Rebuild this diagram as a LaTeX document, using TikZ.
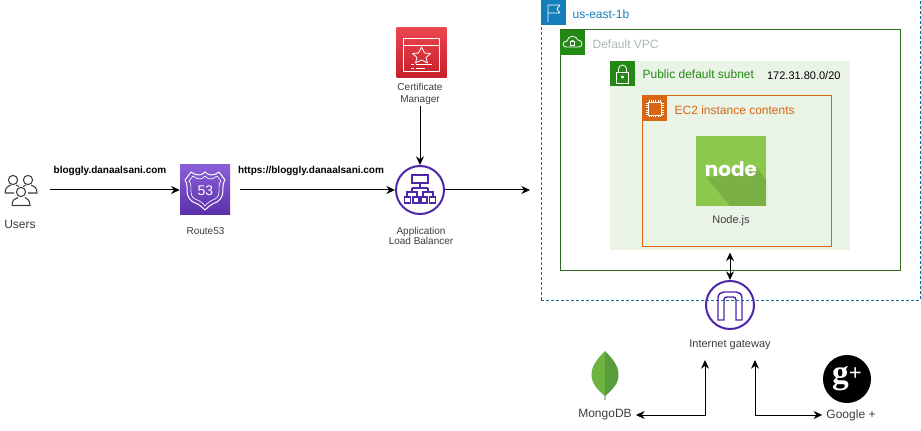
\documentclass[tikz,border=0pt]{standalone}
\usepackage{fontspec}
\setmainfont{Liberation Sans}
\newfontfamily\logofont{Poppins}
\newfontfamily\gplusfont{Liberation Serif}
\usepackage{xcolor}
\usetikzlibrary{arrows.meta, calc, positioning}

\definecolor{labelgray}{HTML}{3C3C3C}
\definecolor{vpcgray}{HTML}{AAB7B8}
\definecolor{zoneblue}{HTML}{147EBA}
\definecolor{awsgreen}{HTML}{248814}
\definecolor{vpcline}{HTML}{2E6B1F}
\definecolor{subnetfill}{HTML}{E9F3E6}
\definecolor{awsorange}{HTML}{D86613}
\definecolor{awspurple}{HTML}{4D27AA}
\definecolor{nodegreen}{HTML}{8CC84B}
\definecolor{nodeshade}{HTML}{7AB044}
\definecolor{routetop}{HTML}{8A5FD8}
\definecolor{routebottom}{HTML}{5A30A8}
\definecolor{certtop}{HTML}{EA4650}
\definecolor{certbottom}{HTML}{C81E2A}
\definecolor{leafleft}{HTML}{6CB43F}
\definecolor{leafright}{HTML}{599C3C}

\tikzset{
    flow/.style={->, line width=0.75pt},
    flowboth/.style={<->, line width=0.75pt},
    tag/.style={font=\fontsize{#1}{#1*1.2}\selectfont, text=labelgray, align=center, inner sep=1pt},
    boldtag/.style={font=\fontsize{7.5pt}{9pt}\selectfont\bfseries, text=black, inner sep=1pt},
    badge/.style={fill=#1, minimum size=18.75pt, inner sep=0pt},
    plainicon/.style={draw=none, inner sep=0pt, minimum size=37.5pt},
    roundicon/.style={circle, draw=awspurple, line width=1.5pt, inner sep=0pt, minimum size=36pt},
    glyph/.style={draw=white, line width=0.6pt, line join=round}
}

\begin{document}
\begin{tikzpicture}[x=0.75pt, y=-0.75pt, >={Stealth[length=6.5pt,width=6pt]}]
    \useasboundingbox (0,0) rectangle (921,431);

    % Nested groups on the right
    \node[draw=zoneblue!85!black, dash pattern=on 2.25pt off 1.5pt, line width=0.75pt, minimum width=284.25pt, minimum height=225pt, inner sep=0pt] (zone) at (730.5,150) {};
    \node[draw=vpcline, line width=0.75pt, minimum width=255pt, minimum height=180pt, inner sep=0pt] (vpc) at (730,150) {};
    \node[fill=subnetfill, minimum width=180pt, minimum height=141.75pt, inner sep=0pt] (subnet) at (730,155.5) {};
    \node[draw=awsorange, line width=0.75pt, minimum width=141.75pt, minimum height=112.5pt, inner sep=0pt] (ec2) at (736.5,171) {};

    % Group badges
    \node[badge=zoneblue] (zonebadge) at (553,12.5) {};
    \node[badge=awsgreen] (vpcbadge) at (572.5,42.5) {};
    \node[badge=awsgreen] (subnetbadge) at (622.5,73.5) {};
    \node[badge=awsorange] (ec2badge) at (654.5,108.5) {};

    % Flag
    \draw[glyph] (548,22) -- (548,5) -- (560,5) -- (557,9) -- (560,13) -- (548,13);
    % Cloud with lock
    \draw[glyph] (566,47) .. controls (562,47) and (562,41) .. (567,41) .. controls (568,35) and (576,35) .. (578,40) .. controls (583,40) and (583,47) .. (579,47) -- cycle;
    \draw[glyph] (570.5,41.5) rectangle (574.5,45);
    \draw[glyph] (571.2,41.5) arc[start angle=180, end angle=360, radius=1.3];
    % Padlock
    \draw[glyph] (616.5,72) rectangle (628.5,83);
    \draw[glyph] (618.5,72) -- (618.5,69) arc[start angle=180, end angle=360, radius=4] -- (626.5,72);
    \draw[glyph] (622.5,77) circle (1.2);
    % Chip
    \draw[glyph] (648,102.5) rectangle (661,115);
    \foreach \i in {0,...,5} {
        \pgfmathsetmacro{\pin}{649+\i*2.2}
        \draw[draw=white, line width=0.4pt] (\pin,100) -- (\pin,102.5) (\pin,115) -- (\pin,117.5);
        \pgfmathsetmacro{\pinb}{103.5+\i*2.1}
        \draw[draw=white, line width=0.4pt] (645.5,\pinb) -- (648,\pinb) (661,\pinb) -- (663.5,\pinb);
    }

    % Group titles
    \node[tag=9pt, text=zoneblue, anchor=west] (zonetitle) at (571,14) {us-east-1b};
    \node[tag=9pt, text=vpcgray, anchor=west] (vpctitle) at (591,44) {Default VPC};
    \node[tag=9pt, text=awsgreen, anchor=west] (subnettitle) at (641,74) {Public default subnet};
    \node[tag=8.25pt, text=black, anchor=west] (cidr) at (765.5,76) {172.31.80.0/20};
    \node[tag=9pt, text=awsorange, anchor=west] (ec2title) at (673,110) {EC2 instance contents};

    % Node.js
    \node[fill=nodegreen, minimum size=52.5pt, inner sep=0pt] (nodejs) at (731,171) {};
    \fill[nodeshade] (707,178) -- (757,168) -- (766,180) -- (766,206) -- (730,206) -- cycle;
    \node[text=white, inner sep=0pt, font=\logofont\bfseries\fontsize{15pt}{15pt}\selectfont] (nodeword) at (731,169.5) {node};
    \node[tag=8.25pt] (nodelabel) at (731,221) {Node.js};

    % Users
    \node[minimum width=45pt, minimum height=30pt, inner sep=0pt] (users) at (20,190) {};
    \foreach \cx/\cy in {13/180,28/180,21/192} {
        \draw[labelgray, line width=0.8pt] (\cx,\cy) circle (4.6);
    }
    \draw[labelgray, line width=0.8pt] (5,193) .. controls (5,187) and (9,186) .. (11,185) (16,185) -- (19,186.5) (23,186.5) -- (26,185) (31,185) .. controls (34,186) and (37,187) .. (37,193) -- (28,193) (5,193) -- (14,193);
    \draw[labelgray, line width=0.8pt] (12,205.5) .. controls (12,200) and (15,198.5) .. (18,197.5) (25,197.5) .. controls (27,198.5) and (30,200) .. (30,205.5) -- (12,205.5);
    \node[tag=9pt] (userslabel) at (20,224) {Users};

    % Route53
    \node[plainicon, top color=routetop, bottom color=routebottom] (route53) at (205,190) {};
    \begin{scope}[shift={(205,190)}]
        \draw[glyph, line width=0.75pt] (-14,-18) .. controls (-8,-14) and (-4,-14) .. (0,-18) .. controls (4,-14) and (8,-14) .. (14,-18) -- (20,-10) .. controls (15,-3) and (22,5) .. (12,12) .. controls (6,14) and (3,17) .. (0,20) .. controls (-3,17) and (-6,14) .. (-12,12) .. controls (-22,5) and (-15,-3) .. (-20,-10) -- cycle;
        \draw[glyph, line width=0.5pt] (-12,-14) .. controls (-7,-10) and (-3,-10) .. (0,-14) .. controls (3,-10) and (7,-10) .. (12,-14) -- (16,-9) .. controls (11,-3) and (18,4) .. (10,9) .. controls (5,11) and (2,13) .. (0,16) .. controls (-2,13) and (-5,11) .. (-10,9) .. controls (-18,4) and (-11,-3) .. (-16,-9) -- cycle;
    \end{scope}
    \node[text=white, inner sep=0pt, font=\fontsize{10.5pt}{12pt}\selectfont] (routenum) at (205.5,191) {53};
    \node[tag=7.5pt] (routelabel) at (205.5,231) {Route53};

    % Certificate Manager
    \node[plainicon, top color=certtop, bottom color=certbottom] (certmgr) at (421.5,53) {};
    \begin{scope}[shift={(421.5,53)}]
        \draw[glyph] (-18,-15) rectangle (18,18);
        \draw[glyph] (-18,-8) -- (18,-8);
        \draw[glyph] (0,-6) -- (3,0) -- (9,0.5) -- (4.5,4.5) -- (6,10) -- (0,7) -- (-6,10) -- (-4.5,4.5) -- (-9,0.5) -- (-3,0) -- cycle;
        \draw[glyph] (-11,11) -- (-8,11) (-6,11) -- (10,11) (-11,15) -- (-8,15) (-6,15) -- (3,15);
    \end{scope}
    \node[tag=7.5pt] (certlabel) at (420,93.5) {Certificate\\[1.5pt]Manager};

    % Application Load Balancer
    \node[roundicon] (alb) at (420,190) {};
    \begin{scope}[shift={(420,190)}, line width=1.1pt, awspurple]
        \draw (-8,-15) rectangle (8,-7);
        \draw (0,-7) -- (0,-2) (-8,-2) -- (8,-2);
        \draw (-8,-2) -- (-8,2) (8,-2) -- (8,2);
        \draw (-13,7) -- (-13,2) -- (-3,2) -- (-3,7);
        \draw (3,7) -- (3,2) -- (13,2) -- (13,7);
        \foreach \bx in {-12.5,-4,4,12.5} {
            \draw (\bx-2.8,7) rectangle (\bx+2.8,13);
        }
    \end{scope}
    \node[tag=7.5pt] (alblabel) at (421,235.5) {Application\\Load Balancer};

    % Internet gateway
    \node[roundicon] (igate) at (730,305) {};
    \begin{scope}[shift={(730,305)}, line width=1.1pt, awspurple]
        \draw (-12,15) -- (-12,-7) .. controls (-12,-11) and (-9,-13) .. (-6,-13) -- (6,-13) .. controls (9,-13) and (12,-11) .. (12,-7) -- (12,15) -- (6,15) -- (6,-5) .. controls (6,-7) and (5,-8) .. (3,-8) -- (-3,-8) .. controls (-5,-8) and (-6,-7) .. (-6,-5) -- (-6,15) -- cycle;
    \end{scope}
    \node[tag=8.25pt] (igatelabel) at (730,345) {Internet gateway};

    % MongoDB leaf
    \node[minimum width=21pt, minimum height=36pt, inner sep=0pt] (leaf) at (605,375) {};
    \fill[black!25] (604.3,390) rectangle (605.7,400);
    \fill[leafleft] (605,351) .. controls (596,360) and (591,367) .. (591.5,376) .. controls (592,385) and (600,392) .. (605,396) -- cycle;
    \fill[leafright] (605,351) .. controls (614,360) and (619,367) .. (618.5,376) .. controls (618,385) and (610,392) .. (605,396) -- cycle;
    \node[tag=9pt, inner sep=3pt] (mongodb) at (605,415) {MongoDB};

    % Google +
    \node[circle, fill=black, minimum size=36pt, inner sep=0pt, text=white, font=\gplusfont\bfseries] (gplus) at (847,379) {\fontsize{25pt}{25pt}\selectfont g\raisebox{2.5pt}{\fontsize{17pt}{17pt}\selectfont +}};
    \node[tag=9pt, inner sep=3pt] (googlelabel) at (851,415) {Google +};

    % Free ends under the gateway
    \coordinate (igleft) at (705,360);
    \coordinate (igright) at (755,360);
    \coordinate (albout) at (530,190);

    % Connectors
    \draw[flow] (users.east) -- (route53.west);
    \draw[flow, shorten <=7.5pt] (route53.east) -- (alb.west);
    \draw[flow] (certlabel.south -| alb.north) -- (alb.north);
    \draw[flow] (alb.east) -- (albout);
    \draw[flowboth, shorten <=4.5pt] (ec2.south -| igate.north) -- (igate.north);
    \draw[flowboth] (mongodb.east) -| (igleft);
    \draw[flowboth] (googlelabel.west) -| (igright);

    % Connector labels
    \node[boldtag] (hostlabel) at (110,171) {bloggly.danaalsani.com};
    \node[boldtag] (httpslabel) at (311,171) {https://bloggly.danaalsani.com};
\end{tikzpicture}
\end{document}
